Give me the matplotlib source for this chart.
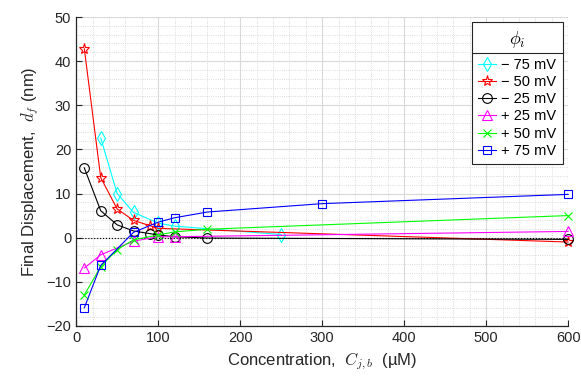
import matplotlib
matplotlib.use('Agg')
import matplotlib.pyplot as plt
from matplotlib.lines import Line2D
from matplotlib.ticker import MultipleLocator

plt.rcParams['font.family'] = ['Liberation Sans', 'DejaVu Sans']
plt.rcParams['mathtext.fontset'] = 'cm'

# data
conc_m75 = [30, 50, 70, 100, 120, 250]
d_m75 = [22.6, 10.0, 5.7, 3.3, 2.6, 0.7]

conc_m50 = [10, 30, 50, 70, 90, 100, 600]
d_m50 = [42.8, 13.6, 6.5, 3.9, 2.7, 2.1, -1.0]

conc_m25 = [10, 30, 50, 70, 90, 100, 120, 160, 600]
d_m25 = [15.8, 6.1, 2.9, 1.5, 0.9, 0.6, 0.2, -0.1, -0.4]

conc_p25 = [10, 30, 70, 100, 120, 600]
d_p25 = [-6.9, -3.9, -0.8, 0.2, 0.2, 1.4]

conc_p50 = [10, 30, 50, 70, 100, 120, 160, 600]
d_p50 = [-13.0, -6.6, -2.7, -0.5, 0.6, 1.3, 1.9, 5.0]

conc_p75 = [10, 30, 70, 100, 120, 160, 300, 600]
d_p75 = [-15.9, -6.3, 1.2, 3.5, 4.5, 5.8, 7.7, 9.8]

labels = ['\u2212 75 mV', '\u2212 50 mV', '\u2212 25 mV', '+ 25 mV', '+ 50 mV', '+ 75 mV']

series = [
    (conc_m75, d_m75, '#00FFFF', 'd', 7),
    (conc_m50, d_m50, '#FF0000', '*', 8),
    (conc_m25, d_m25, '#000000', 'o', 7),
    (conc_p25, d_p25, '#FF00FF', '^', 7),
    (conc_p50, d_p50, '#00FF00', 'x', 6),
    (conc_p75, d_p75, '#0000FF', 's', 6),
]

fig = plt.figure(figsize=(5.81, 3.87), dpi=100)
ax = fig.add_axes([0.131, 0.158, 0.847, 0.798])

for (x, y, c, m, ms), lab in zip(series, labels):
    ax.plot(x, y, color=c, marker=m, ms=ms, mfc='none', mec=c, mew=0.8, lw=0.8,
            label=lab, clip_on=False)

ax.axhline(0, color='k', ls=':', lw=0.8, zorder=1)

ax.set_xlim(0, 600)
ax.set_ylim(-20, 50)
ax.xaxis.set_major_locator(MultipleLocator(100))
ax.xaxis.set_minor_locator(MultipleLocator(20))
ax.yaxis.set_major_locator(MultipleLocator(10))
ax.yaxis.set_minor_locator(MultipleLocator(2))
ax.grid(True, which='major', color='#d9d9d9', lw=0.8)
ax.grid(True, which='minor', color='#cfcfcf', lw=0.6, ls=':')
ax.set_axisbelow(True)

for s in ['top', 'right']:
    ax.spines[s].set_visible(False)
for s in ['left', 'bottom']:
    ax.spines[s].set_color('#262626')
    ax.spines[s].set_linewidth(0.9)
ax.tick_params(which='both', direction='in', colors='#262626', labelsize=10.5)
ax.tick_params(which='minor', length=0)
ax.tick_params(which='major', length=4)

ax.set_xlabel('Concentration,  $C_{j,b}$  (\u00b5M)', fontsize=12, color='#262626')
ax.set_ylabel('Final Displacement,  $d_f$ (nm)', fontsize=12, color='#262626')

leg = ax.legend(title='$\\phi_i$', loc='upper right', bbox_to_anchor=(0.99, 0.984),
                borderaxespad=0, fontsize=10.5, title_fontsize=13, fancybox=False,
                framealpha=1, edgecolor='#262626', handlelength=1.2, handletextpad=0.4,
                labelspacing=0.22, borderpad=0.45)
leg.get_frame().set_linewidth(0.8)
leg._legend_box.sep = 6

fig.canvas.draw()
r = fig.canvas.get_renderer()
lb = leg.get_window_extent(r)
tb = leg.get_title().get_window_extent(r)
ysep = tb.y0 - 3
inv = fig.transFigure.inverted()
x0, y0 = inv.transform((lb.x0, ysep))
x1, _ = inv.transform((lb.x1, ysep))
fig.add_artist(Line2D([x0, x1], [y0, y0], color='#262626', lw=0.8, transform=fig.transFigure))

fig.savefig('out.png', dpi=100)
